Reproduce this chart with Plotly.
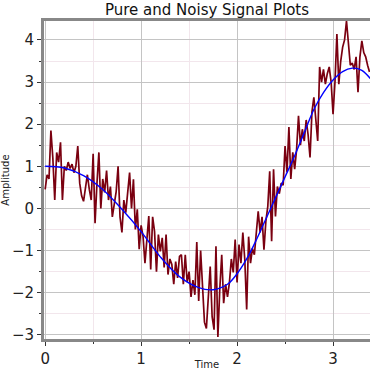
import numpy as np
import plotly.graph_objects as go

# ---- data ----
time = np.round(np.arange(0, 3.39, 0.02), 2)

noisy = [
    0.45, 0.8, 0.7, 1.85, 1.2, 0.2, 1.33, 1.1, 1.57, 0.2,
    1.0, 0.9, 1.1, 0.95, 1.05, 0.85, 1.0, 1.48, 0.6, 0.3,
    0.17, 0.5, 0.8, 0.45, 0.2, 1.3, -0.35, 0.6, 1.33, 0.0,
    0.7, 0.38, 0.9, 0.2, 0.52, -0.2, 0.15, 0.4, 1.0, -0.2,
    -0.57, 0.2, -0.1, 0.3, 0.85, 0.0, 0.69, -0.5, -0.02, -0.97,
    -0.4, -0.66, -1.3, -0.74, -0.18, -1.45, -0.2, -0.55, -1.5, -0.62,
    -1.02, -0.7, -1.4, -0.62, -1.57, -1.2, -1.33, -1.8, -1.26, -1.65,
    -1.14, -1.1, -1.8, -1.1, -1.75, -1.5, -2.1, -1.7, -2.05, -0.8,
    -2.2, -1.0, -2.0, -2.7, -2.85, -2.1, -1.38, -2.57, -2.88, -0.9,
    -3.05, -1.9, -1.1, -2.25, -1.8, -2.1, -1.76, -1.2, -1.52, -0.74,
    -1.76, -0.86, -1.3, -0.57, -1.2, -2.4, -0.67, -1.3, -0.95, -1.1,
    -0.5, -0.07, -0.57, -0.2, -0.98, -0.3, 0.05, 0.88, -0.78, 0.93,
    -0.19, 0.52, 0.35, 0.6, 0.55, 1.48, 0.86, 1.93, 0.7, 1.33,
    0.93, 1.4, 2.2, 1.5, 1.88, 1.6, 2.1, 1.75, 1.21, 2.29,
    2.64, 2.0, 1.6, 3.36, 3.0, 3.3, 2.95, 3.2, 3.36, 3.0,
    2.24, 3.0, 4.14, 2.95, 3.5, 3.83, 4.0, 4.45, 3.9, 3.4,
    3.45, 3.3, 3.6, 2.76, 3.6, 3.98, 3.7, 3.6, 3.4, 3.24,
]

t_pure = [0, 0.2, 0.4, 0.6, 0.8, 1.0, 1.2, 1.4, 1.6, 1.75, 1.9, 2.0, 2.1,
          2.2, 2.3, 2.4, 2.5, 2.6, 2.7, 2.8, 2.9, 3.0, 3.1, 3.2, 3.3, 3.4]
pure = [1.0, 0.96, 0.78, 0.45, -0.02, -0.55, -1.15, -1.62, -1.88, -1.93,
        -1.8, -1.55, -1.2, -0.75, -0.25, 0.25, 0.75, 1.25, 1.8, 2.35, 2.75,
        3.05, 3.25, 3.33, 3.28, 3.05]

x_ticks = [0, 1, 2, 3]
y_ticks = [-3, -2, -1, 0, 1, 2, 3, 4]

FONT = "DejaVu Sans"

fig = go.Figure()
fig.add_trace(go.Scatter(x=time, y=noisy, mode="lines",
                         line=dict(color="#7a0010", width=1.7), name="Noisy"))
fig.add_trace(go.Scatter(x=t_pure, y=pure, mode="lines",
                         line=dict(color="#0000ff", width=1.4, shape="spline"),
                         name="Pure"))

fig.update_layout(
    width=370, height=370,
    margin=dict(l=44, r=0, t=21, b=31),
    paper_bgcolor="white", plot_bgcolor="white",
    showlegend=False,
    font=dict(family=FONT, color="#222"),
    title=dict(text="Pure and Noisy Signal Plots", x=0.5, xref="paper",
               y=1 - 9.5 / 370, yref="container", yanchor="middle",
               font=dict(family=FONT, size=15, color="#111")),
)

fig.update_xaxes(
    range=[-0.012, 3.385], tickvals=x_ticks, ticks="outside", ticklen=4,
    tickwidth=1.2, tickcolor="#333", tickfont=dict(size=15, family=FONT),
    showline=True, linecolor="#888", linewidth=3, mirror=True,
    showgrid=True, gridcolor="#c4c4c4", gridwidth=1.3, zeroline=False,
    minor=dict(dtick=0.5, tick0=0, ticks="outside", ticklen=2, tickcolor="#333",
               showgrid=True, gridcolor="#f2e6ec", gridwidth=1),
    title=dict(text="Time", font=dict(size=10, family=FONT), standoff=4),
    automargin=False,
)
fig.update_yaxes(
    range=[-3.1, 4.45], tickvals=y_ticks, ticks="outside", ticklen=4,
    tickwidth=1.2, tickcolor="#333", tickfont=dict(size=15, family=FONT),
    showline=True, linecolor="#888", linewidth=3, mirror=False,
    showgrid=True, gridcolor="#c4c4c4", gridwidth=1.3, zeroline=False,
    minor=dict(dtick=0.5, tick0=0, ticks="outside", ticklen=2, tickcolor="#333",
               showgrid=True, gridcolor="#f2e6ec", gridwidth=1),
    title=dict(text="Amplitude", font=dict(size=10, family=FONT), standoff=4),
    automargin=False,
)

fig.write_html("out.html", config={"displayModeBar": False},
               post_script="document.body.style.margin='0px';")
